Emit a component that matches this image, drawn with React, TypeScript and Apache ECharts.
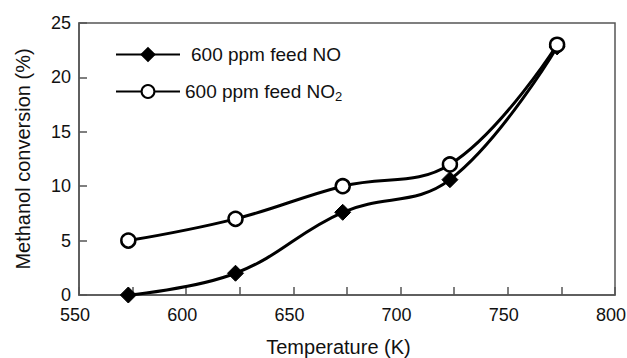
import React, { useEffect, useRef } from "react";
import * as echarts from "echarts";

// Reaction temperatures (K) and methanol conversion (%) for each feed
const temperatures = [573, 623, 673, 723, 773];
const conversionNO = [0, 2, 7.6, 10.6, 22.8];
const conversionNO2 = [5, 7, 10, 12, 23];

const xTicks = { min: 550, max: 800, step: 25, labelStep: 50 };
const yTicks = { min: 0, max: 25, step: 5 };

const FONT = "Liberation Sans, Arial, sans-serif";
const INK = "#111";
const FRAME = "#555";

export default function App() {
  const ref = useRef<HTMLDivElement>(null);

  useEffect(() => {
    if (!ref.current) return;
    const chart = echarts.init(ref.current, undefined, { renderer: "svg" });

    const pair = (ys: number[]) => temperatures.map((t, i) => [t, ys[i]]);

    chart.setOption({
      animation: false,
      backgroundColor: "#fff",
      textStyle: { fontFamily: FONT },
      grid: {
        left: 79,
        right: 12,
        top: 23,
        bottom: 63,
        show: true,
        borderColor: FRAME,
        borderWidth: 1.5,
        outerBoundsMode: "none",
      },
      legend: {
        orient: "vertical",
        left: 110,
        top: 40,
        itemWidth: 64,
        itemHeight: 16,
        itemGap: 18,
        selectedMode: false,
        textStyle: {
          fontFamily: FONT,
          fontSize: 19,
          color: INK,
          rich: {
            main: { fontFamily: FONT, fontSize: 19, color: INK },
            shift: { fontFamily: FONT, fontSize: 19, color: INK, padding: [0, 0, 0, 6] },
            sub: { fontFamily: FONT, fontSize: 13, color: INK, verticalAlign: "bottom", padding: [9, 0, 0, 0] },
          },
        },
        formatter: (name: string) =>
          name === "NO2" ? "{main|600 ppm feed NO}{sub|2}" : "{shift|600 ppm feed NO}",
        data: ["NO", "NO2"],
      },
      xAxis: {
        type: "value",
        min: xTicks.min,
        max: xTicks.max,
        interval: xTicks.step,
        name: "Temperature (K)",
        nameLocation: "middle",
        nameGap: 42,
        nameTextStyle: { fontFamily: FONT, fontSize: 20, color: INK, padding: [0, 17, 0, 0] },
        axisLine: { show: true, lineStyle: { color: FRAME, width: 1.5 } },
        axisTick: { show: true, inside: true, length: 8, lineStyle: { color: FRAME, width: 1.5 } },
        axisLabel: {
          fontFamily: FONT,
          fontSize: 18,
          color: INK,
          margin: 11,
          padding: [0, 8, 0, 0],
          formatter: (v: number) => ((v - xTicks.min) % xTicks.labelStep === 0 ? String(v) : ""),
        },
        splitLine: { show: false },
      },
      yAxis: {
        type: "value",
        min: yTicks.min,
        max: yTicks.max,
        interval: yTicks.step,
        name: "Methanol conversion (%)",
        nameLocation: "middle",
        nameGap: 46,
        nameTextStyle: { fontFamily: FONT, fontSize: 20, color: INK },
        axisLine: { show: true, lineStyle: { color: FRAME, width: 1.5 } },
        axisTick: { show: true, inside: true, length: 8, lineStyle: { color: FRAME, width: 1.5 } },
        axisLabel: { fontFamily: FONT, fontSize: 18, color: INK, margin: 8, lineHeight: 16 },
        splitLine: { show: false },
      },
      series: [
        {
          name: "NO",
          type: "line",
          data: pair(conversionNO),
          smooth: 0.4,
          symbol: "diamond",
          symbolSize: 16,
          showAllSymbol: true,
          lineStyle: { color: "#000", width: 3 },
          itemStyle: { color: "#000", borderColor: "#000", borderWidth: 1 },
          z: 2,
        },
        {
          name: "NO2",
          type: "line",
          data: pair(conversionNO2),
          smooth: 0.4,
          symbol: "circle",
          symbolSize: 14,
          showAllSymbol: true,
          lineStyle: { color: "#000", width: 3 },
          itemStyle: { color: "#fff", borderColor: "#000", borderWidth: 2.5 },
          z: 3,
        },
      ],
    });

    return () => chart.dispose();
  }, []);

  return <div ref={ref} style={{ width: 627, height: 358, position: "absolute", left: 0, top: 0 }} />;
}
